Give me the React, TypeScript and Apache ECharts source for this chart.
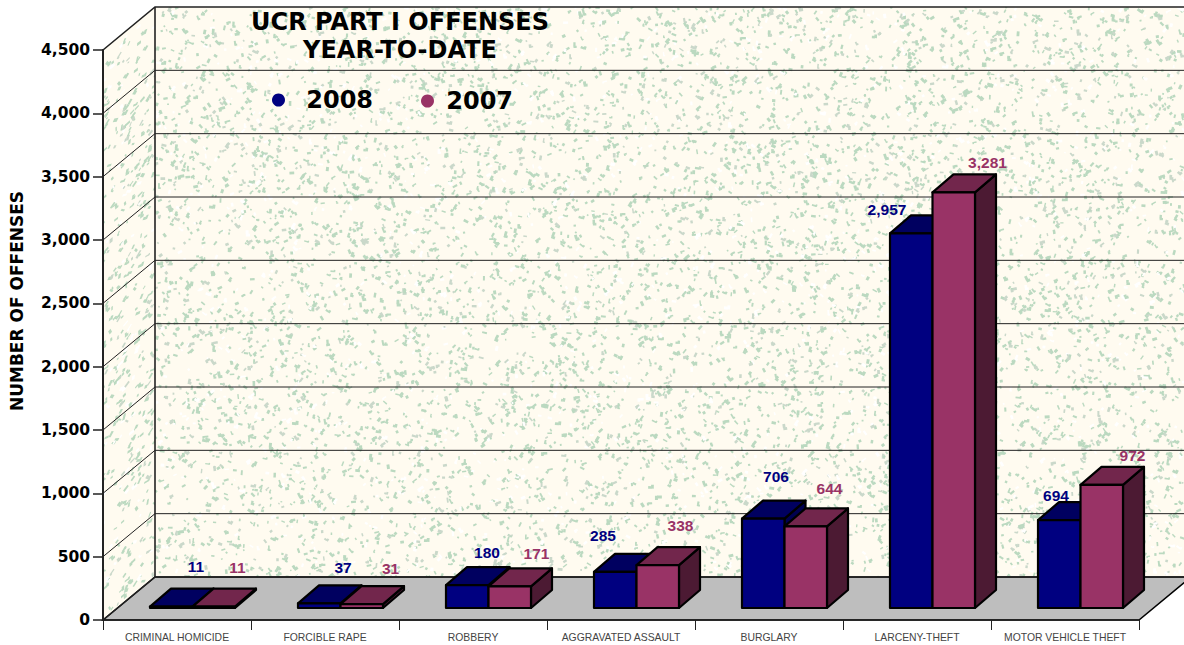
import React, { useEffect, useRef } from "react";
import * as echarts from "echarts";

const categories = ["CRIMINAL HOMICIDE", "FORCIBLE RAPE", "ROBBERY", "AGGRAVATED ASSAULT", "BURGLARY", "LARCENY-THEFT", "MOTOR VEHICLE THEFT"];
const values2008 = [11, 37, 180, 285, 706, 2957, 694];
const values2007 = [11, 31, 171, 338, 644, 3281, 972];
const yTicks = [0, 500, 1000, 1500, 2000, 2500, 3000, 3500, 4000, 4500];

// hand-placed label offsets in the reference, relative to the bar's front top-left corner
const labelOffset2008 = [[46, -40], [45, -36], [41, -33], [9, -36], [34, -42], [-3, -24], [18, -25]];
const labelOffset2007 = [[45, -39], [50, -36], [48, -33], [44, -40], [45, -38], [55, -30], [52, -29]];

const W = 1184, H = 645;
const GL = 103, GT = 50, GW = 1036, GH = 570;
const DX = 52, DY = 43; // chart depth
const BAR_W = 42.5, BAR_DX = 21, BAR_DY = 18, BASE_DY = 12;
const BLUE = { front: "#000080", top: "#000060", side: "#000050", text: "#000080" };
const PINK = { front: "#993366", top: "#72264C", side: "#4C1A33", text: "#993366" };

function speckles(ctx: CanvasRenderingContext2D, w: number, h: number, seed: number) {
  let s = seed;
  const rnd = () => { s = (s * 1664525 + 1013904223) >>> 0; return s / 4294967296; };
  const count = Math.round((w * h) / 62);
  for (let i = 0; i < count; i++) {
    const x = rnd() * w, y = rnd() * h, a = rnd() * Math.PI;
    const l = 1.5 + rnd() * 3.5, t = 1.3 + rnd() * 1.7;
    const c = rnd();
    ctx.fillStyle = c < 0.68 ? "#BBD9C0" : c < 0.84 ? "#CAD8CA" : "#FFFFFF";
    ctx.save();
    ctx.translate(x, y);
    ctx.rotate(a);
    ctx.fillRect(-l / 2, -t / 2, l, t);
    if (rnd() < 0.3) ctx.fillRect(l / 3, -t, t, t * 1.4);
    ctx.restore();
  }
}

function wallTexture(): string {
  const cv = document.createElement("canvas");
  cv.width = W; cv.height = H;
  const ctx = cv.getContext("2d")!;
  ctx.fillStyle = "#ffffff";
  ctx.fillRect(0, 0, W, H);
  const bottom = GT + GH;
  // back wall
  ctx.save();
  ctx.beginPath();
  ctx.rect(GL + DX, GT - DY, W - GL - DX, GH);
  ctx.clip();
  ctx.fillStyle = "#FFFBF0";
  ctx.fillRect(0, 0, W, H);
  ctx.translate(GL + DX, GT - DY);
  speckles(ctx, W - GL - DX, GH, 12345);
  ctx.restore();
  // left wall, sheared
  ctx.save();
  ctx.beginPath();
  ctx.moveTo(GL, bottom); ctx.lineTo(GL, GT); ctx.lineTo(GL + DX, GT - DY); ctx.lineTo(GL + DX, bottom - DY); ctx.closePath();
  ctx.clip();
  ctx.fillStyle = "#FFFBF0";
  ctx.fillRect(0, 0, W, H);
  ctx.translate(GL, GT);
  ctx.transform(1, -DY / DX, 0, 1, 0, 0);
  speckles(ctx, DX, GH, 777);
  ctx.restore();
  // soften the whole texture once
  const out = document.createElement("canvas");
  out.width = W; out.height = H;
  const octx = out.getContext("2d")!;
  octx.filter = "blur(0.45px)";
  octx.drawImage(cv, 0, 0);
  return out.toDataURL("image/png");
}

const fmt = (v: number) => v.toLocaleString("en-US");

function barItem(colors: typeof BLUE, offsetIndex: number, offsets: number[][]) {
  return (params: any, api: any) => {
    const i = api.value(0), v = api.value(1);
    const center = api.coord([i, 0]);
    const top = api.coord([i, v]);
    const x0 = center[0] - 27 + offsetIndex * BAR_W;
    const x1 = x0 + BAR_W;
    const yb = center[1] - BASE_DY;
    const yt = top[1] - BASE_DY;
    const line = { stroke: "#000", lineWidth: 2.2, lineJoin: "round" };
    const poly = (pts: number[][], fill: string) => ({ type: "polygon", shape: { points: pts }, style: { fill, ...line } });
    const o = offsets[i];
    return {
      type: "group",
      children: [
        poly([[x1, yb], [x1 + BAR_DX, yb - BAR_DY], [x1 + BAR_DX, yt - BAR_DY], [x1, yt]], colors.side),
        poly([[x0, yt], [x0 + BAR_DX, yt - BAR_DY], [x1 + BAR_DX, yt - BAR_DY], [x1, yt]], colors.top),
        poly([[x0, yb], [x0, yt], [x1, yt], [x1, yb]], colors.front),
        {
          type: "text",
          x: x0 + o[0], y: yt + o[1],
          style: {
            text: fmt(v), fill: colors.text, align: "center", verticalAlign: "middle",
            font: 'bold 15.5px "Liberation Sans", Arial, sans-serif',
          },
        },
      ],
    };
  };
}

export default function App() {
  const ref = useRef<HTMLDivElement>(null);
  useEffect(() => {
    document.body.style.margin = "0";
    const chart = echarts.init(ref.current!, undefined, { renderer: "svg", width: W, height: H });
    const legendBase = {
      orient: "horizontal", icon: "circle", itemWidth: 15.5, itemHeight: 13, selectedMode: false,
      symbolKeepAspect: false, padding: 0,
      textStyle: { fontFamily: "DejaVu Sans", fontWeight: "bold", fontSize: 24, color: "#000" },
    };
    chart.setOption({
      animation: false,
      backgroundColor: "#fff",
      title: {
        text: "UCR PART I OFFENSES\nYEAR-TO-DATE",
        left: 400, top: 8, padding: 0, textAlign: "center",
        textStyle: { fontFamily: "DejaVu Sans", fontWeight: "bold", fontSize: 24, lineHeight: 28, color: "#000" },
      },
      legend: [
        { ...legendBase, data: ["2008"], left: 272, top: 88, textStyle: { ...legendBase.textStyle, padding: [0, 0, 0, 15] } },
        { ...legendBase, data: ["2007"], left: 421, top: 89, textStyle: { ...legendBase.textStyle, padding: [0, 0, 0, 6] } },
      ],
      grid: { left: GL, top: GT, width: GW, height: GH },
      xAxis: {
        type: "category", data: categories,
        axisLine: { lineStyle: { color: "#222", width: 1.5 } },
        axisTick: { show: true, alignWithLabel: false, length: 10, lineStyle: { color: "#222", width: 1 } },
        axisLabel: { margin: 12, interval: 0, color: "#444", fontSize: 10.4, fontFamily: "Liberation Sans" },
      },
      yAxis: {
        type: "value", min: 0, max: 4500, interval: 500,
        splitLine: { show: false },
        axisLine: { show: true, lineStyle: { color: "#222", width: 2 } },
        axisTick: { show: true, length: 10, lineStyle: { color: "#222", width: 1.5 } },
        axisLabel: { margin: 13, padding: [4, 0, 0, 0], color: "#000", fontSize: 15.5, fontWeight: "bold", fontFamily: "DejaVu Sans", formatter: (v: number) => fmt(v) },
      },
      graphic: [
        { type: "image", z: -10, silent: true, style: { image: wallTexture(), x: 0, y: 0, width: W, height: H } },
        {
          type: "polygon", z: -5, silent: true,
          shape: { points: [[GL, GT + GH], [GL + DX, GT + GH - DY], [GL + GW + DX, GT + GH - DY], [GL + GW, GT + GH]] },
          style: { fill: "#BEBEBE", stroke: "#000", lineWidth: 1.5 },
        },
        {
          type: "text", z: 10, x: 16.5, y: 301, rotation: Math.PI / 2,
          style: {
            text: "NUMBER OF OFFENSES", align: "center", verticalAlign: "middle", fill: "#000",
            font: 'bold 17px "DejaVu Sans"',
          },
        },
      ],
      series: [
        {
          type: "custom", name: "walls", coordinateSystem: "cartesian2d", z: 1, silent: true,
          data: yTicks.map((t) => [0, t]),
          encode: { x: 0, y: 1 },
          renderItem: (params: any, api: any) => {
            const y = api.coord([0, api.value(1)])[1];
            const isTop = api.value(1) === 4500, isBase = api.value(1) === 0;
            const lw = isTop || isBase ? 1.6 : 1;
            return {
              type: "polyline",
              shape: { points: [[GL, y], [GL + DX, y - DY], [W, y - DY]] },
              style: { fill: "none", stroke: "#222", lineWidth: lw },
            };
          },
        },
        {
          type: "custom", name: "wallEdge", coordinateSystem: "cartesian2d", z: 1, silent: true,
          data: [[0, 0]],
          encode: { x: 0, y: 1 },
          renderItem: (params: any, api: any) => {
            const yb = api.coord([0, 0])[1];
            const yt = api.coord([0, 4500])[1];
            return {
              type: "line",
              shape: { x1: GL + DX, y1: yb - DY, x2: GL + DX, y2: yt - DY },
              style: { stroke: "#222", lineWidth: 1.6 },
            };
          },
        },
        {
          type: "custom", name: "2008", coordinateSystem: "cartesian2d", z: 3,
          itemStyle: { color: BLUE.front },
          data: values2008.map((v, i) => [i, v]),
          encode: { x: 0, y: 1 },
          renderItem: barItem(BLUE, 0, labelOffset2008),
        },
        {
          type: "custom", name: "2007", coordinateSystem: "cartesian2d", z: 4,
          itemStyle: { color: PINK.front },
          data: values2007.map((v, i) => [i, v]),
          encode: { x: 0, y: 1 },
          renderItem: barItem(PINK, 1, labelOffset2007),
        },
      ],
    });
    return () => chart.dispose();
  }, []);
  return <div ref={ref} style={{ width: W, height: H }} />;
}
